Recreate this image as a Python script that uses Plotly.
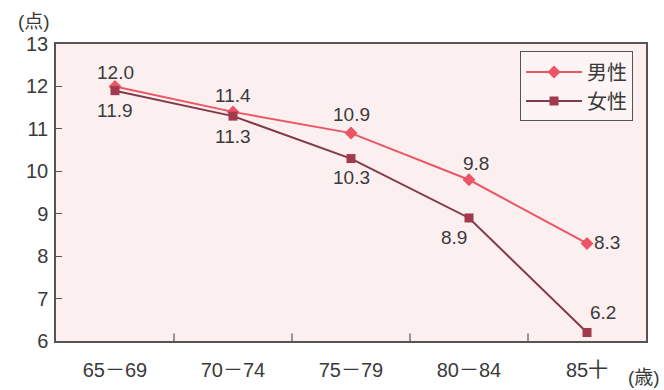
import plotly.graph_objects as go

# Age groups and average scores
categories = ["65－69", "70－74", "75－79", "80－84", "85十"]
male = [12.0, 11.4, 10.9, 9.8, 8.3]
female = [11.9, 11.3, 10.3, 8.9, 6.2]
y_ticks = [6, 7, 8, 9, 10, 11, 12, 13]

MALE_COLOR = "#ec5566"
FEMALE_COLOR = "#84394a"
TEXT_COLOR = "#3a3a3a"
FONT = "Liberation Sans, Arial, Noto Sans CJK JP, sans-serif"

fig = go.Figure()
fig.add_trace(go.Scatter(
    x=categories, y=male, name="男性", mode="lines+markers",
    line=dict(color=MALE_COLOR, width=2),
    marker=dict(symbol="diamond", size=10, color=MALE_COLOR),
))
fig.add_trace(go.Scatter(
    x=categories, y=female, name="女性", mode="lines+markers",
    line=dict(color=FEMALE_COLOR, width=2),
    marker=dict(symbol="square", size=9, color="#a13a4c"),
))

# value labels with pixel offsets from each point
male_offsets = [(0, 14), (0, 16), (0, 19), (7, 16), (20, 1)]
female_offsets = [(0, -20), (0, -20), (0, -19), (-15, -20), (16, 20)]
for cat, v, (dx, dy) in zip(categories, male, male_offsets):
    fig.add_annotation(x=cat, y=v, text=f"{v:.1f}", showarrow=False,
                       xshift=dx, yshift=dy, font=dict(size=19, color=TEXT_COLOR))
for cat, v, (dx, dy) in zip(categories, female, female_offsets):
    fig.add_annotation(x=cat, y=v, text=f"{v:.1f}", showarrow=False,
                       xshift=dx, yshift=dy, font=dict(size=19, color=TEXT_COLOR))

# unit labels
fig.add_annotation(x=-0.068, y=1.035, xref="paper", yref="paper", text="(点)",
                   showarrow=False, xanchor="left", yanchor="bottom",
                   font=dict(size=19, color=TEXT_COLOR))
fig.add_annotation(x=1.027, y=-0.165, xref="paper", yref="paper", text="(歳)",
                   showarrow=False, xanchor="right", yanchor="bottom",
                   font=dict(size=19, color=TEXT_COLOR))

fig.update_layout(
    width=664, height=390,
    margin=dict(l=56, r=18, t=44, b=49, autoexpand=False),
    paper_bgcolor="white",
    plot_bgcolor="#fcefF0",
    font=dict(family=FONT, size=19, color=TEXT_COLOR),
    showlegend=True,
    legend=dict(x=0.978, y=0.975, xanchor="right", yanchor="top",
                bgcolor="#fdf4f5", bordercolor="#555555", borderwidth=1,
                font=dict(size=20), itemwidth=56, tracegroupgap=2),
    xaxis=dict(
        type="category", tickvals=categories, ticktext=categories,
        showgrid=False, showline=True, linecolor="#555555", linewidth=1.5,
        mirror=True, ticks="", range=[-0.5, 4.5], automargin=False,
        tickfont=dict(size=20), ticklabelstandoff=10,
    ),
    yaxis=dict(
        range=[6, 13], tickvals=y_ticks, showgrid=False, zeroline=False,
        showline=True, linecolor="#555555", linewidth=1.5, mirror=True,
        ticks="inside", ticklen=6, tickcolor="#555555", automargin=False,
        tickfont=dict(size=20), ticklabelstandoff=2,
    ),
)

# inward category-boundary tick marks along the bottom axis
for b in [0.5, 1.5, 2.5, 3.5]:
    fig.add_shape(type="line", xref="x", yref="paper", x0=b, x1=b, y0=0, y1=0.025,
                  line=dict(color="#555555", width=1.2))

fig.write_html("out.html")
